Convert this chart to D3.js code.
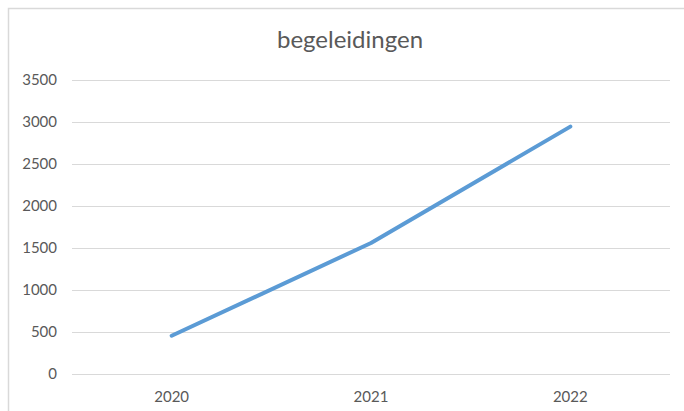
<!DOCTYPE html>
<html>
<head>
<meta charset="utf-8">
<script src="https://cdn.jsdelivr.net/npm/d3@7"></script>
<style>
  body { margin: 0; background: #fff; }
  svg { display: block; font-family: Lato, "Open Sans", sans-serif; }
</style>
</head>
<body>
<div id="chart"></div>
<script>
var years = ['2020', '2021', '2022'];
var begeleidingen = [455, 1560, 2945];
var yTicks = [0, 500, 1000, 1500, 2000, 2500, 3000, 3500];

var width = 684, height = 411;
var margin = {top: 80, right: 14, bottom: 37, left: 72};

var svg = d3.select('#chart').append('svg')
    .attr('width', width)
    .attr('height', height);

// chart area border (only top and left visible in the crop)
svg.append('path')
    .attr('d', 'M8.5,' + height + 'V8.5H' + width)
    .attr('fill', 'none')
    .attr('stroke', '#d9d9d9')
    .attr('stroke-width', 1.5);

var x = d3.scaleBand()
    .domain(years)
    .range([margin.left, width - margin.right]);

var y = d3.scaleLinear()
    .domain([0, 3500])
    .range([height - margin.bottom, margin.top]);

// gridlines
svg.append('g')
  .selectAll('line')
  .data(yTicks)
  .enter().append('line')
    .attr('x1', margin.left)
    .attr('x2', width - margin.right)
    .attr('y1', function(d) { return Math.round(y(d)) + 0.5; })
    .attr('y2', function(d) { return Math.round(y(d)) + 0.5; })
    .attr('stroke', '#d9d9d9')
    .attr('stroke-width', 1);

// y labels
svg.append('g')
  .selectAll('text')
  .data(yTicks)
  .enter().append('text')
    .attr('x', 57)
    .attr('y', function(d) { return y(d); })
    .attr('dy', '0.36em')
    .attr('text-anchor', 'end')
    .attr('fill', '#595959')
    .style('font-size', '15px')
    .text(function(d) { return d; });

// x labels
svg.append('g')
  .selectAll('text')
  .data(years)
  .enter().append('text')
    .attr('x', function(d) { return x(d) + x.bandwidth() / 2; })
    .attr('y', 402)
    .attr('text-anchor', 'middle')
    .attr('fill', '#595959')
    .style('font-size', '15px')
    .text(function(d) { return d; });

var line = d3.line()
    .x(function(d, i) { return x(years[i]) + x.bandwidth() / 2; })
    .y(function(d) { return y(d); });

svg.append('path')
    .datum(begeleidingen)
    .attr('d', line)
    .attr('fill', 'none')
    .attr('stroke', '#5b9bd5')
    .attr('stroke-width', 4)
    .attr('stroke-linecap', 'round')
    .attr('stroke-linejoin', 'round');

// title
svg.append('text')
    .attr('x', 350)
    .attr('y', 48)
    .attr('text-anchor', 'middle')
    .attr('fill', '#595959')
    .style('font-size', '24px')
    .text('begeleidingen');
</script>
</body>
</html>
